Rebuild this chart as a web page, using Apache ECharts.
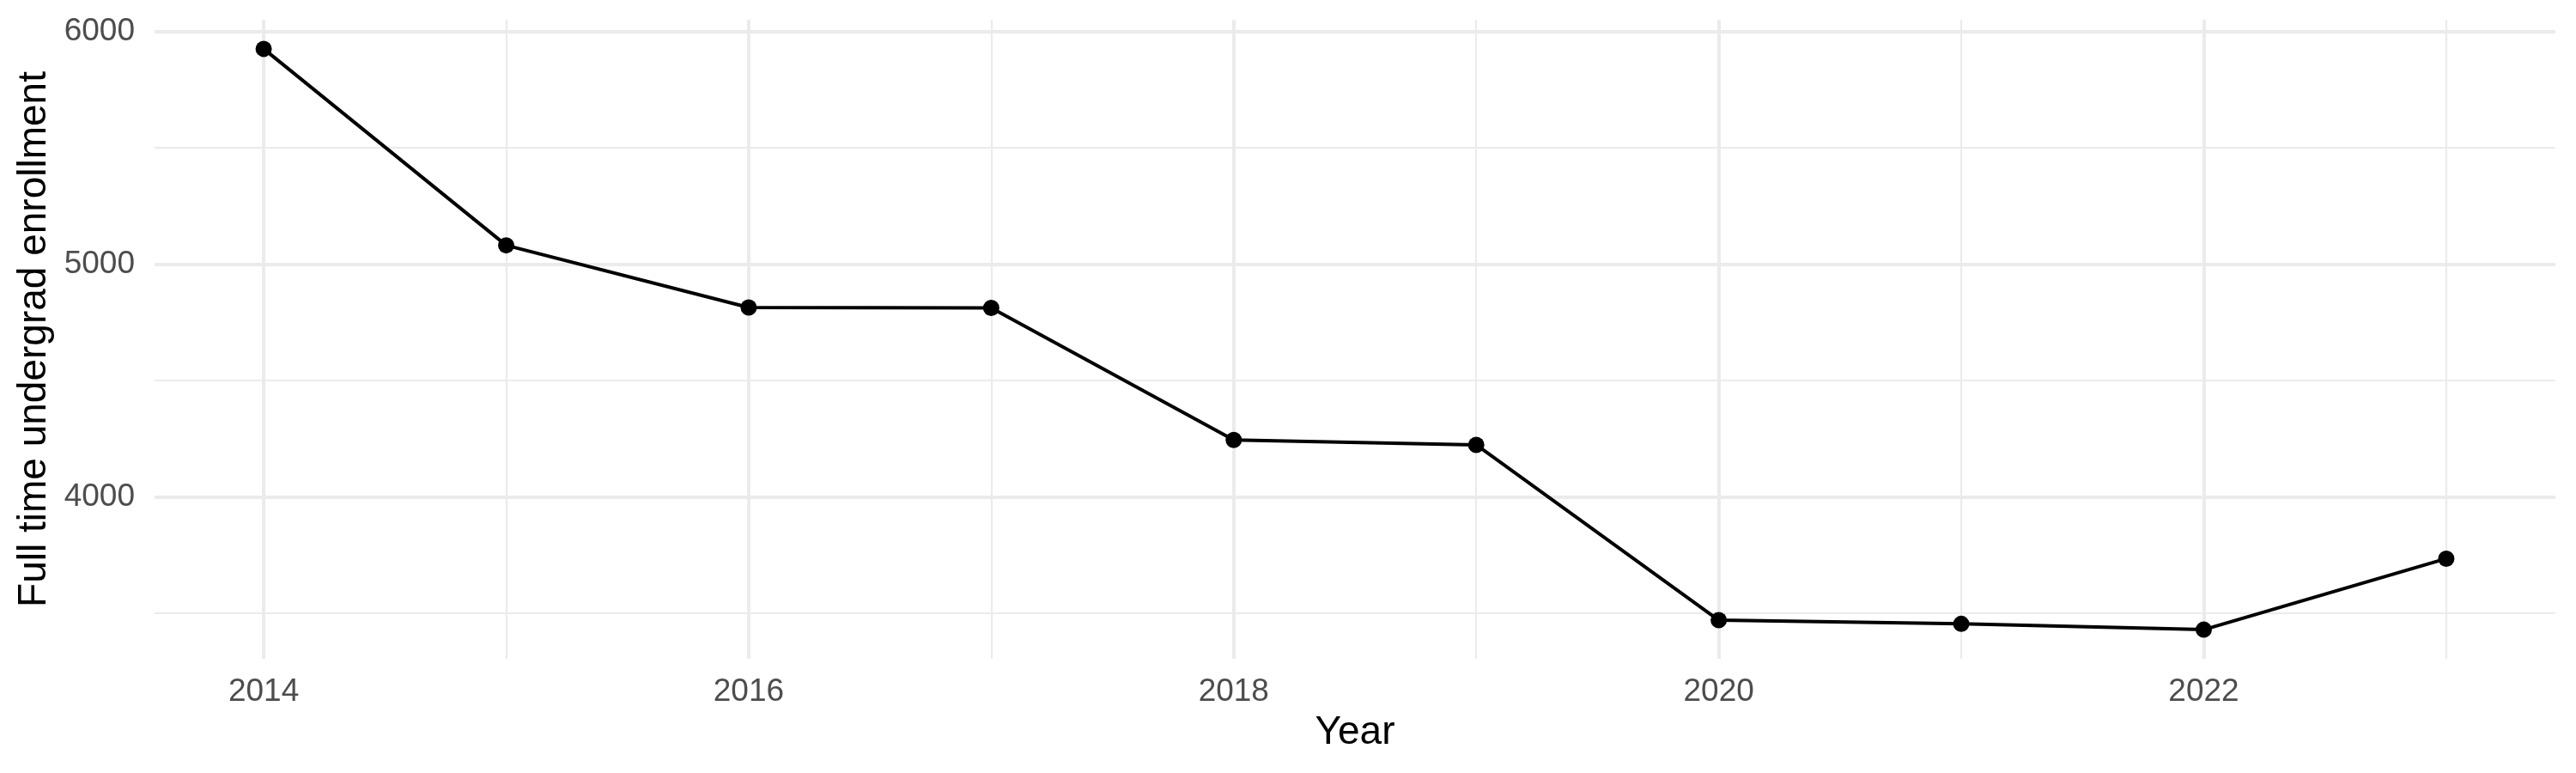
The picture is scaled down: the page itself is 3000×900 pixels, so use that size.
<!DOCTYPE html>
<html>
<head>
<meta charset="utf-8">
<script src="https://cdn.jsdelivr.net/npm/echarts@6/dist/echarts.min.js"></script>
<style>
html,body{margin:0;padding:0;background:#fff;}
#chart{width:3000px;height:900px;}
</style>
</head>
<body>
<div id="chart"></div>
<script>
const years = [2014, 2015, 2016, 2017, 2018, 2019, 2020, 2021, 2022, 2023];
const enrollment = [5925, 5081, 4814, 4812, 4245, 4224, 3471, 3455, 3430, 3735];
const xMajorTicks = [2014, 2016, 2018, 2020, 2022];
const xMinorTicks = [2015, 2017, 2019, 2021, 2023];
const yMajorTicks = [4000, 5000, 6000];
const yMinorTicks = [3500, 4500, 5500];

const FONT = '"Liberation Sans", Arial, Helvetica, sans-serif';
const GRID = '#ebebeb';
const xMin = 2013.55, xMax = 2023.45;
const yMin = 3305, yMax = 6050;

const chart = echarts.init(document.getElementById('chart'), null, {renderer: 'canvas'});
chart.setOption({
  animation: false,
  backgroundColor: '#ffffff',
  grid: {left: 180, right: 24, top: 23, bottom: 133, containLabel: false},
  xAxis: [
    {
      type: 'value', min: xMin, max: xMax,
      name: 'Year', nameLocation: 'middle', nameGap: 63,
      nameTextStyle: {fontFamily: FONT, fontSize: 46, color: '#000000'},
      axisLine: {show: false},
      axisTick: {show: false, customValues: xMajorTicks},
      axisLabel: {show: true, customValues: xMajorTicks, margin: 20, fontFamily: FONT, fontSize: 37, color: '#4d4d4d', formatter: v => String(v)},
      splitLine: {show: true, lineStyle: {color: GRID, width: 4}}
    },
    {
      type: 'value', min: xMin, max: xMax,
      axisLine: {show: false},
      axisTick: {show: false, customValues: xMinorTicks},
      axisLabel: {show: false, customValues: xMinorTicks},
      splitLine: {show: true, lineStyle: {color: GRID, width: 2.2}}
    }
  ],
  yAxis: [
    {
      type: 'value', min: yMin, max: yMax,
      name: 'Full time undergrad enrollment', nameLocation: 'middle', nameGap: 113,
      nameTextStyle: {fontFamily: FONT, fontSize: 46, color: '#000000'},
      axisLine: {show: false},
      axisTick: {show: false, customValues: yMajorTicks},
      axisLabel: {show: true, customValues: yMajorTicks, margin: 23, fontFamily: FONT, fontSize: 37, color: '#4d4d4d', formatter: v => String(v)},
      splitLine: {show: true, lineStyle: {color: GRID, width: 4}}
    },
    {
      type: 'value', min: yMin, max: yMax,
      axisLine: {show: false},
      axisTick: {show: false, customValues: yMinorTicks},
      axisLabel: {show: false, customValues: yMinorTicks},
      splitLine: {show: true, lineStyle: {color: GRID, width: 2.2}}
    }
  ],
  series: [{
    type: 'line',
    xAxisIndex: 0, yAxisIndex: 0,
    data: years.map((y, i) => [y, enrollment[i]]),
    symbol: 'circle', symbolSize: 19,
    itemStyle: {color: '#000000'},
    lineStyle: {color: '#000000', width: 4},
    z: 5
  }]
});
</script>
</body>
</html>
